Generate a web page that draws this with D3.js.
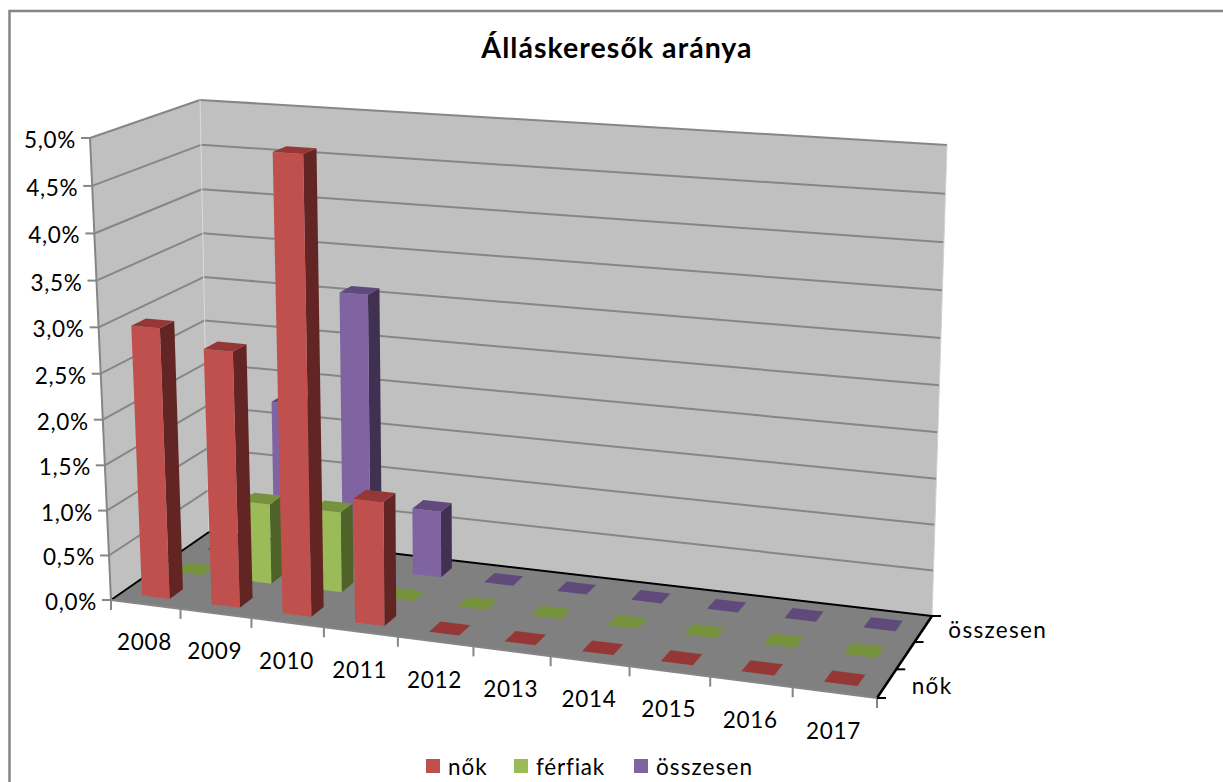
<!DOCTYPE html>
<html>
<head>
<meta charset="utf-8">
<script src="https://cdn.jsdelivr.net/npm/d3@7"></script>
<style>
	html, body { margin: 0; padding: 0; background: #fff; }
	svg { display: block; }
	text { font-family: Lato, "Open Sans", sans-serif; fill: #000; }
</style>
</head>
<body>
<div id="chart"></div>
<script>
// Values
var years = ['2008', '2009', '2010', '2011', '2012', '2013', '2014', '2015', '2016', '2017'];
var seriesNames = ['nők', 'férfiak', 'összesen'];
var nok = [2.98, 2.8, 4.93, 1.35, 0, 0, 0, 0, 0, 0];
var ferfiak = [0, 0.9, 0.9, 0, 0, 0, 0, 0, 0, 0];
var osszesen = [0, 1.8, 3.1, 0.75, 0, 0, 0, 0, 0, 0];
var valueTicks = [0, 0.5, 1, 1.5, 2, 2.5, 3, 3.5, 4, 4.5, 5];

var seriesValues = [nok, ferfiak, osszesen];
var frontColors = ['#C0504D', '#9BBB59', '#8064A2'];
var sideColors = ['#632523', '#4F6228', '#403152'];
var topColors = ['#953735', '#76923C', '#604A7B'];

var svgWidth = 1223;
var svgHeight = 782;

var svg = d3.select('#chart').append('svg').attr('width', svgWidth).attr('height', svgHeight);

// Scales, all in unit cube coordinates
var xScale = d3.scaleBand().domain(years).range([0, 1]).paddingInner(0.6).paddingOuter(0.3);
var zScale = d3.scaleBand().domain(seriesNames).range([0, 1]).paddingInner(0.6).paddingOuter(0.3);
var yScale = d3.scaleLinear().domain([0, 5]).range([0, 1]);

// Perspective of the box: the floor and the top of the box, corners as [x, y] on screen
// order is front left, front right, back right, back left
var floorQuad = [[111, 600], [877, 698], [932, 616], [209, 532]];
var topQuad = [[90, 138], [910, 193], [947, 145], [200, 100]];
var heightPersp = -0.04;

// square to quad mapping (returns a function of u, w)
function quadMap(quad) {
	var x0 = quad[0][0], y0 = quad[0][1];
	var x1 = quad[1][0], y1 = quad[1][1];
	var x2 = quad[2][0], y2 = quad[2][1];
	var x3 = quad[3][0], y3 = quad[3][1];
	var sx = x0 - x1 + x2 - x3;
	var sy = y0 - y1 + y2 - y3;
	var det = (x1 - x2) * (y3 - y2) - (x3 - x2) * (y1 - y2);
	var g = (sx * (y3 - y2) - (x3 - x2) * sy) / det;
	var h = ((x1 - x2) * sy - sx * (y1 - y2)) / det;
	return function(u, w) {
		var q = g * u + h * w + 1;
		return [
			((x1 - x0 + g * x1) * u + (x3 - x0 + h * x3) * w + x0) / q,
			((y1 - y0 + g * y1) * u + (y3 - y0 + h * y3) * w + y0) / q
		];
	};
}

var floorMap = quadMap(floorQuad);
var topMap = quadMap(topQuad);

function project(u, w, t) {
	var f = floorMap(u, w);
	var c = topMap(u, w);
	var k = (1 + heightPersp) * t / (1 + heightPersp * t);
	return [f[0] + (c[0] - f[0]) * k, f[1] + (c[1] - f[1]) * k];
}

var line = d3.line();

function drawPoly(points, fill) {
	return svg.append('path')
		.attr('d', line(points.map((p) => project(p[0], p[1], p[2]))) + 'Z')
		.attr('fill', fill);
}

function drawEdge(from, to, color, width) {
	return svg.append('path')
		.attr('d', line([project(from[0], from[1], from[2]), project(to[0], to[1], to[2])]))
		.attr('fill', 'none')
		.attr('stroke', color)
		.attr('stroke-width', width);
}

// Outer frame
svg.append('path')
	.attr('d', 'M9.5,782V11H1223')
	.attr('fill', 'none')
	.attr('stroke', '#868686')
	.attr('stroke-width', 2.5);

// Walls and floor
drawPoly([[0, 0, 0], [0, 1, 0], [0, 1, 1], [0, 0, 1]], '#C0C0C0');
drawPoly([[0, 1, 0], [1, 1, 0], [1, 1, 1], [0, 1, 1]], '#C0C0C0');
drawPoly([[0, 0, 0], [1, 0, 0], [1, 1, 0], [0, 1, 0]], '#808080');

// Gridlines on both walls
valueTicks.forEach(function(v) {
	var t = yScale(v);
	if (v > 0) {
		drawEdge([0, 0, t], [0, 1, t], '#868686', 2);
		drawEdge([0, 1, t], [1, 1, t], '#868686', 2);
	}
});

// Wall edges
drawEdge([0, 1, 0], [0, 1, 1], '#D9D9D9', 1);
drawEdge([1, 1, 0], [1, 1, 1], '#D0D0D0', 1);

// Floor edges
drawEdge([0, 0, 0], [0, 1, 0], '#000', 2);
drawEdge([0, 1, 0], [1, 1, 0], '#000', 2);
drawEdge([1, 0, 0], [1, 1, 0], '#000', 2.5);
drawEdge([0, 0, 0], [1, 0, 0], '#868686', 2);
drawEdge([0, 0, 0], [0, 0, 1], '#868686', 2);

// Value axis ticks and labels
var formatValue = (v) => d3.format('.1f')(v).replace('.', ',') + '%';
valueTicks.forEach(function(v) {
	var p = project(0, 0, yScale(v));
	svg.append('path')
		.attr('d', line([[p[0] - 9, p[1]], p]))
		.attr('stroke', '#868686')
		.attr('stroke-width', 2);
	svg.append('text')
		.attr('x', p[0] - 14)
		.attr('y', p[1] + 10)
		.attr('text-anchor', 'end')
		.attr('font-size', 22.5)
		.attr('letter-spacing', 0.7)
		.text(formatValue(v));
});

// Category axis ticks and labels
var step = xScale.step();
d3.range(0, years.length + 1).forEach(function(i) {
	var p = project(i * step, 0, 0);
	svg.append('path')
		.attr('d', line([p, [p[0], p[1] + 10]]))
		.attr('stroke', '#868686')
		.attr('stroke-width', 2);
});
years.forEach(function(year) {
	var p = project(xScale(year) + xScale.bandwidth() / 2, 0, 0);
	svg.append('text')
		.attr('x', p[0] - 1)
		.attr('y', p[1] + 46)
		.attr('text-anchor', 'middle')
		.attr('font-size', 22.5)
		.attr('letter-spacing', 0.7)
		.text(year);
});

// Depth axis ticks and labels
var zStep = zScale.step();
d3.range(0, seriesNames.length + 1).forEach(function(i) {
	var p = project(1, i * zStep, 0);
	svg.append('path')
		.attr('d', line([p, [p[0] + 9, p[1]]]))
		.attr('stroke', '#000')
		.attr('stroke-width', 2);
});
[0, 2].forEach(function(j) {
	var p = project(1, zScale(seriesNames[j]) + zScale.bandwidth() / 2, 0);
	svg.append('text')
		.attr('x', p[0] + 25)
		.attr('y', p[1] + (j === 0 ? 11 : 9))
		.attr('font-size', 22.5)
		.attr('letter-spacing', 1.3)
		.text(seriesNames[j]);
});

// Bars, back row first, left to right inside a row
d3.range(seriesNames.length - 1, -1, -1).forEach(function(j) {
	var z0 = zScale(seriesNames[j]);
	var z1 = z0 + zScale.bandwidth();
	years.forEach(function(year, i) {
		var u0 = xScale(year);
		var u1 = u0 + xScale.bandwidth();
		var t = yScale(seriesValues[j][i]);
		if (t > 0) {
			drawPoly([[u1, z0, 0], [u1, z1, 0], [u1, z1, t], [u1, z0, t]], sideColors[j]);
			drawPoly([[u0, z0, 0], [u1, z0, 0], [u1, z0, t], [u0, z0, t]], frontColors[j]);
		}
		drawPoly([[u0, z0, t], [u1, z0, t], [u1, z1, t], [u0, z1, t]], topColors[j]);
	});
});

// Title
svg.append('text')
	.attr('x', 617)
	.attr('y', 58)
	.attr('text-anchor', 'middle')
	.attr('font-size', 28.5)
	.attr('font-weight', 700)
	.attr('letter-spacing', 1.05)
	.text('Álláskeresők aránya');

// Legend
var legendX = [426, 514, 634];
var legendSpacing = [1, 0.8, 1.1];
seriesNames.forEach(function(name, j) {
	svg.append('rect')
		.attr('x', legendX[j])
		.attr('y', 759)
		.attr('width', 14)
		.attr('height', 14)
		.attr('fill', frontColors[j]);
	svg.append('text')
		.attr('x', legendX[j] + 22)
		.attr('y', 775)
		.attr('font-size', 22.5)
		.attr('letter-spacing', legendSpacing[j])
		.text(name);
});
</script>
</body>
</html>
